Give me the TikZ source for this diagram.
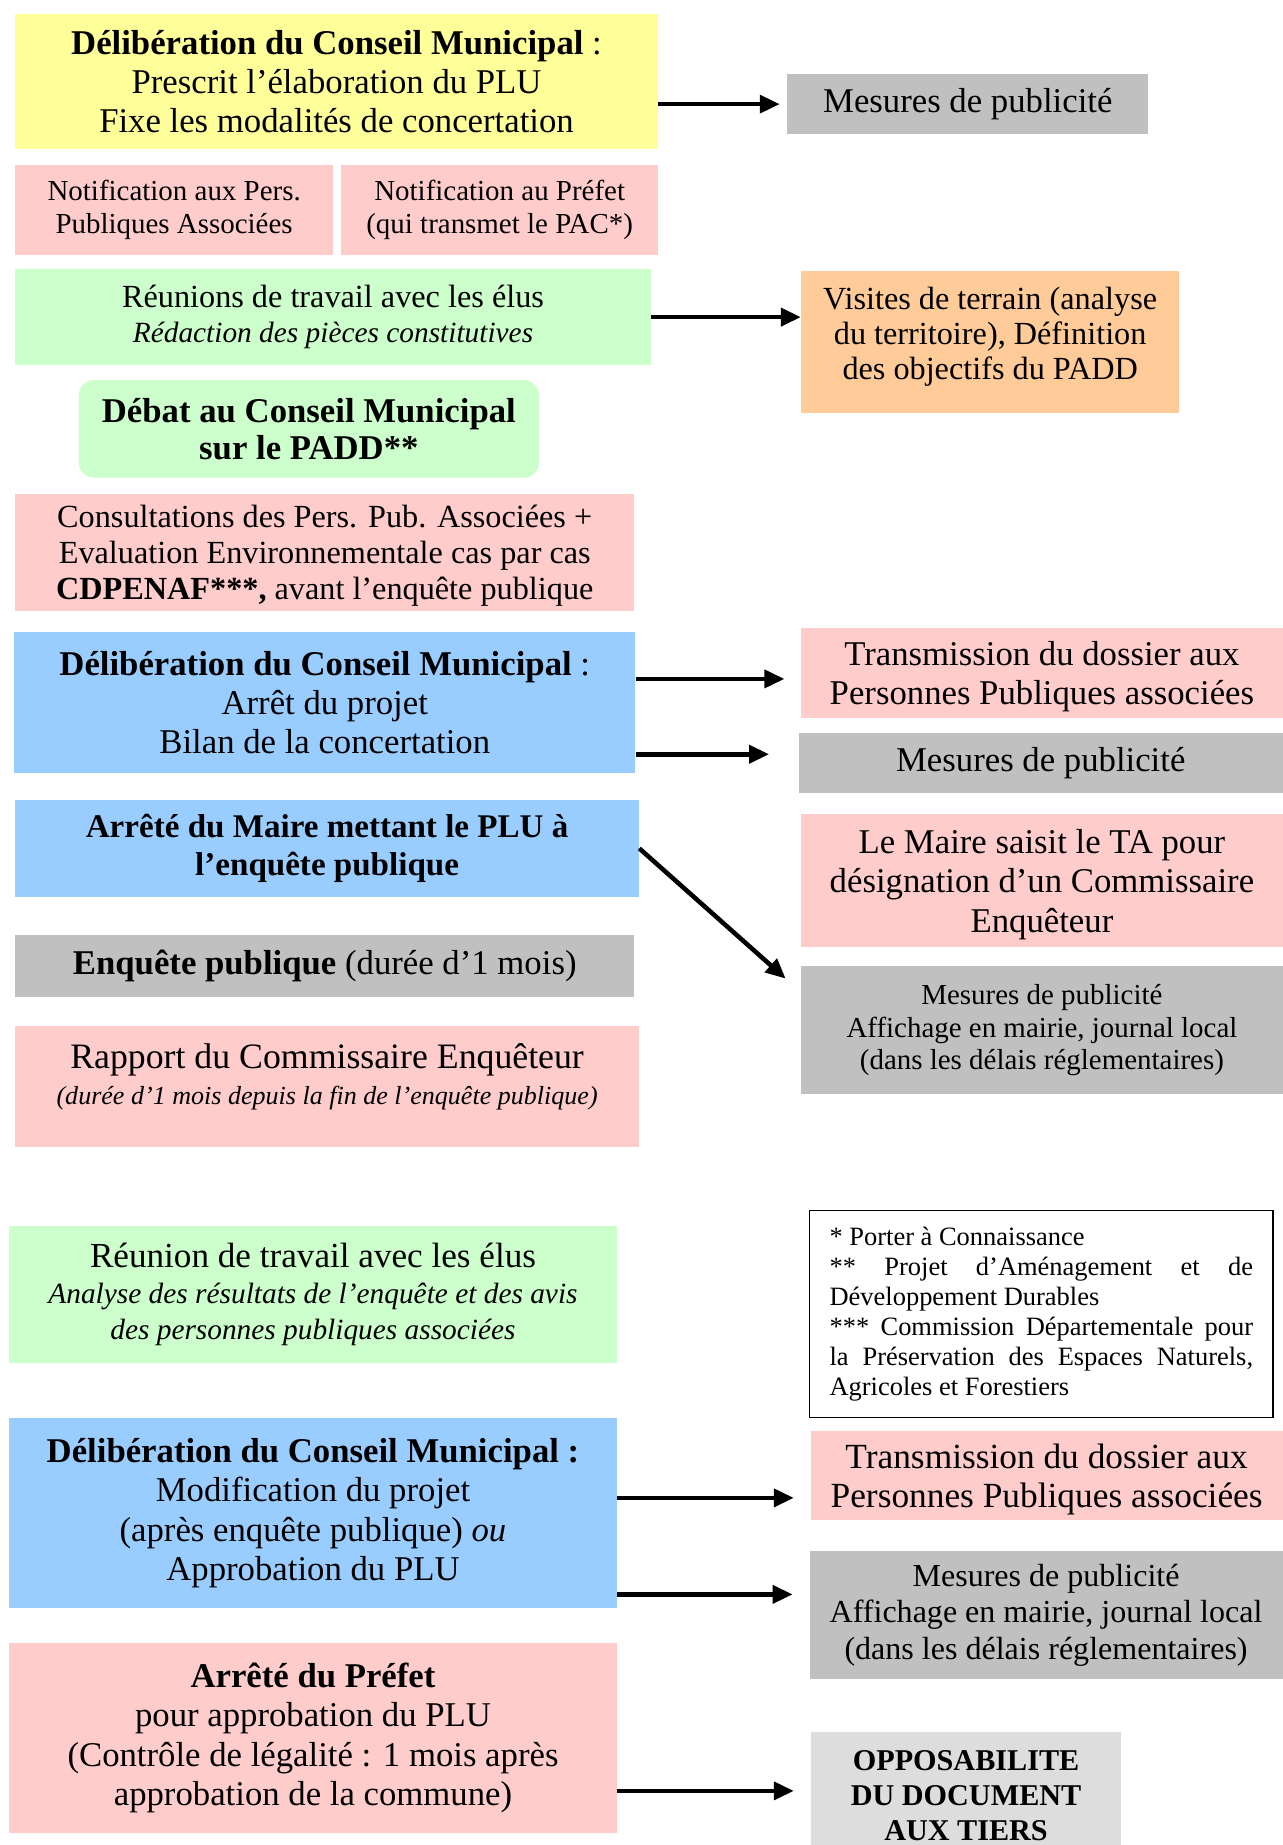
\documentclass[tikz,border=0pt]{standalone}
\usepackage{fontspec}
\setmainfont{Liberation Serif}
\usepackage{tikz}
\usetikzlibrary{arrows.meta,positioning}

\definecolor{jaune}{HTML}{FFFF99}
\definecolor{rose}{HTML}{FFCCCC}
\definecolor{vert}{HTML}{CCFFCC}
\definecolor{bleu}{HTML}{99CCFF}
\definecolor{gris}{HTML}{C0C0C0}
\definecolor{orange}{HTML}{FFCC99}
\definecolor{grisclair}{HTML}{DDDDDD}

\newcommand\grand{\fontsize{16.8}{19}\selectfont}
\newcommand\moyen{\fontsize{15.6}{17}\selectfont}
\newcommand\petit{\fontsize{14}{15.8}\selectfont}
\hyphenpenalty=10000

\begin{document}
\begin{tikzpicture}[x=0.02cm,y=-0.02cm]
\tikzstyle{every node}=[align=center, inner sep=0pt, font=\grand]
\tikzset{box/.style={fill=#1}, fleche/.style={-{Triangle[length=3.4mm,width=3mm]}, line width=2.2pt}}
\useasboundingbox (0,0) rectangle (1090,1568);
\node [box=jaune, minimum width=10.92cm, minimum height=2.3cm] (delib1) at (286,69.5) {\textbf{Délibération du Conseil Municipal} :\\Prescrit l'élaboration du PLU\\Fixe les modalités de concertation};
\node [box=gris, minimum width=6.14cm, minimum height=1.02cm] (pub1) at (822.5,88.5) {Mesures de publicité};
\node [box=rose, minimum width=5.4cm, minimum height=1.54cm, font=\petit] (notifPPA) at (148,178.5) {Notification aux Pers.\\Publiques Associées};
\node [box=rose, minimum width=5.4cm, minimum height=1.54cm, font=\petit, right=0.12cm of notifPPA] (notifPref) {Notification au Préfet\\(qui transmet le PAC*)};
\node [box=vert, minimum width=10.8cm, minimum height=1.62cm, font=\moyen] (reunion1) at (283,269.5) {Réunions de travail avec les élus\\{\fontsize{14.2}{17}\selectfont\itshape Rédaction des pièces constitutives}};
\node [box=orange, minimum width=6.42cm, minimum height=2.42cm, font=\moyen, text depth=8.5pt] (visites) at (841.5,290.5) {Visites de terrain (analyse\\du territoire), Définition\\des objectifs du PADD};
\node [box=vert, rounded corners=0.25cm, minimum width=7.82cm, minimum height=1.66cm, font=\fontsize{16.8}{18.2}\selectfont\bfseries, text depth=0pt] (debat) at (262.5,364.5) {Débat au Conseil Municipal\\sur le PADD**};
\node [box=rose, minimum width=10.52cm, minimum height=1.98cm, font=\fontsize{15.6}{17.4}\selectfont, text depth=0pt] (consult) at (276,469.5) {Consultations des Pers. Pub. Associées +\\Evaluation Environnementale cas par cas\\\textbf{CDPENAF***,} avant l'enquête publique};
\node [box=bleu, minimum width=10.56cm, minimum height=2.4cm] (delib2) at (276,597) {\textbf{Délibération du Conseil Municipal} :\\Arrêt du projet\\Bilan de la concertation};
\node [box=rose, minimum width=8.18cm, minimum height=1.52cm, text depth=0pt] (transm1) at (885.5,572) {Transmission du dossier aux\\Personnes Publiques associées};
\node [box=gris, minimum width=8.22cm, minimum height=1.02cm] (pub2) at (884.5,648.5) {Mesures de publicité};
\node [box=bleu, minimum width=10.6cm, minimum height=1.64cm, font=\fontsize{16}{18.2}\selectfont\bfseries] (arreteMaire) at (278,721) {Arrêté du Maire mettant le PLU à\\l'enquête publique};
\node [box=rose, minimum width=8.18cm, minimum height=2.26cm, text depth=0pt] (saisitTA) at (885.5,748.5) {Le Maire saisit le TA pour\\désignation d'un Commissaire\\Enquêteur};
\node [box=gris, minimum width=8.18cm, minimum height=2.18cm, font=\petit] (pub3) at (885.5,875.5) {Mesures de publicité\\Affichage en mairie, journal local\\(dans les délais réglementaires)};
\node [box=gris, minimum width=10.52cm, minimum height=1.04cm] (enquete) at (276,821) {\textbf{Enquête publique} (durée d'1 mois)};
\node [box=rose, minimum width=10.6cm, minimum height=2.06cm, font=\fontsize{17.3}{17.5}\selectfont, text depth=12pt] (rapport) at (278,923.5) {Rapport du Commissaire Enquêteur\\{\fontsize{12.6}{17.5}\selectfont\itshape (durée d'1 mois depuis la fin de l'enquête publique)}};
\node [box=vert, minimum width=10.32cm, minimum height=2.32cm, font=\fontsize{17}{17.6}\selectfont] (reunion2) at (266,1100) {Réunion de travail avec les élus\\{\fontsize{14.2}{17.6}\selectfont\itshape Analyse des résultats de l'enquête et des avis}\\{\fontsize{14.2}{17.6}\selectfont\itshape des personnes publiques associées}};
\node [draw, line width=0.6pt, minimum width=7.88cm, minimum height=3.52cm, text width=7.2cm, align=justify, font=\fontsize{12.8}{14.5}\selectfont] (legende) at (885,1117) {* Porter à Connaissance\par ** Projet d'Aménagement et de Développement Durables\par *** Commission Départementale pour la Préservation des Espaces Naturels, Agricoles et Forestiers\par};
\node [box=bleu, minimum width=10.32cm, minimum height=3.24cm] (delib3) at (266,1286) {\textbf{Délibération du Conseil Municipal :}\\Modification du projet\\(après enquête publique) \textit{ou}\\Approbation du PLU};
\node [box=rose, minimum width=8.02cm, minimum height=1.52cm, font=\fontsize{17.1}{18.8}\selectfont, text depth=0pt] (transm2) at (889.5,1254) {Transmission du dossier aux\\Personnes Publiques associées};
\node [box=gris, minimum width=8.04cm, minimum height=2.18cm, font=\fontsize{15.5}{17.6}\selectfont] (pub4) at (889,1372.5) {Mesures de publicité\\Affichage en mairie, journal local\\(dans les délais réglementaires)};
\node [box=rose, minimum width=10.32cm, minimum height=3.24cm] (prefet) at (266,1477) {\textbf{Arrêté du Préfet}\\pour approbation du PLU\\(Contrôle de légalité : 1 mois après\\approbation de la commune)};
\node [box=grisclair, minimum width=5.28cm, minimum height=2.16cm, font=\bfseries\fontsize{14.6}{16.8}\selectfont] (oppos) at (821,1526) {OPPOSABILITE\\DU DOCUMENT\\AUX TIERS};
% fleches
\path (delib1.east |- pub1.west) edge [fleche, shorten >=0.12cm] (pub1.west);
\path (reunion1.east) edge [fleche] (reunion1.east -| visites.west);
\path ([yshift=-1mm]transm1.west -| delib2.east) edge [fleche, shorten >=0.28cm] ([yshift=-1mm]transm1.west);
\path ([yshift=1.5mm]pub2.west -| delib2.east) edge [fleche, shorten >=0.5cm] ([yshift=1.5mm]pub2.west);
\path (arreteMaire.east) edge [fleche] ([xshift=-2.6mm,yshift=-2.2mm]pub3.north west);
\path ([yshift=-3.8mm]transm2.west -| delib3.east) edge [fleche, shorten >=0.28cm] ([yshift=-3.8mm]transm2.west);
\path ([yshift=3.5mm]pub4.west -| delib3.east) edge [fleche, shorten >=0.28cm] ([yshift=3.5mm]pub4.west);
\path ([yshift=-9mm]prefet.east) edge [fleche, shorten >=0.28cm] ([yshift=-9mm]prefet.east -| oppos.west);
\end{tikzpicture}
\end{document}
